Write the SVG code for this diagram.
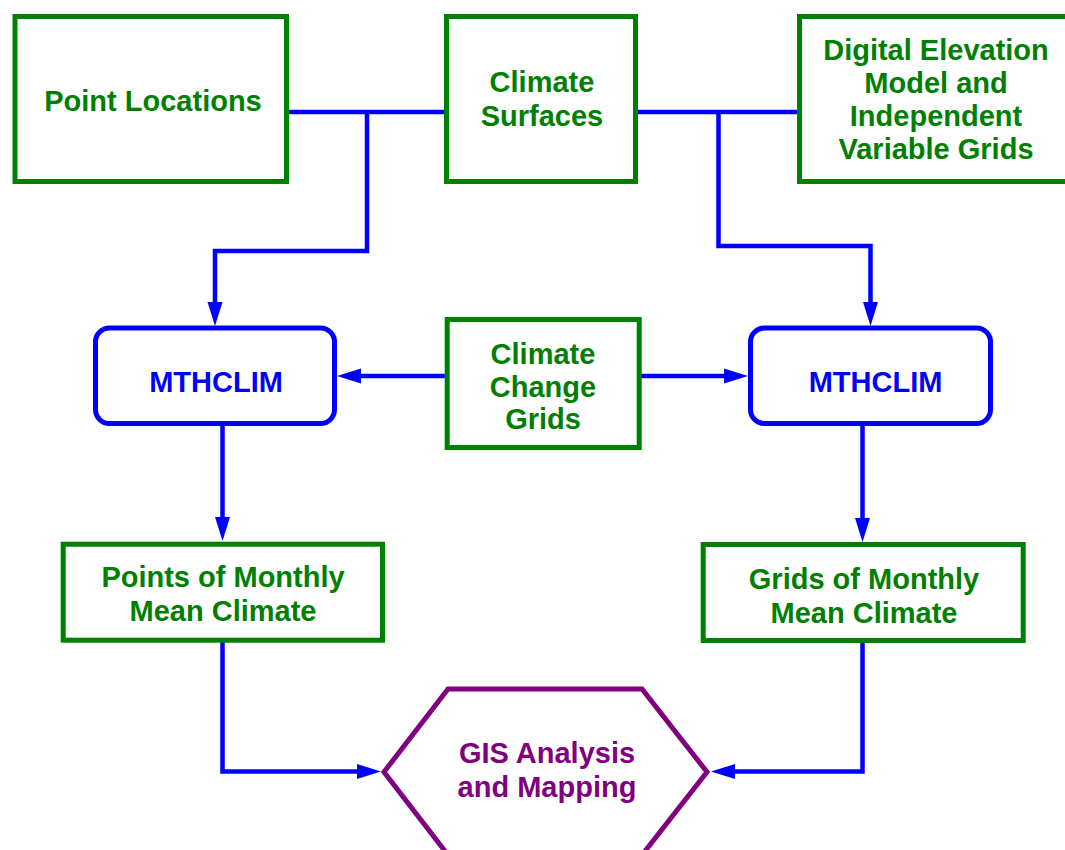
<svg xmlns="http://www.w3.org/2000/svg" width="1065" height="850" viewBox="0 0 1065 850">
  <style>
    .box { fill: #ffffff; stroke: #008000; stroke-width: 5; }
    .proc { fill: #ffffff; stroke: #0000ff; stroke-width: 5; }
    .hex { fill: #ffffff; stroke: #800080; stroke-width: 5; stroke-linejoin: miter; }
    .lbl { font-family: "Liberation Sans", Arial, sans-serif; font-weight: bold; font-size: 29px; text-anchor: middle; }
    .g { fill: #008000; }
    .b { fill: #0000ff; }
    .p { fill: #800080; }
    .wire { fill: none; stroke: #0000ff; stroke-width: 4.5; stroke-linejoin: miter; }
  </style>
  <defs>
    <marker id="arrow" viewBox="0 0 24 16" refX="14" refY="8" markerWidth="24" markerHeight="16" markerUnits="userSpaceOnUse" orient="auto">
      <path d="M0,0.5 L24,8 L0,15.5 z" fill="#0000ff"/>
    </marker>
  </defs>

  <rect width="1065" height="850" fill="#ffffff"/>

  <!-- connectors -->
  <g id="connectors">
    <path class="wire" d="M286,112 L447,112"/>
    <path class="wire" d="M636,112 L800,112"/>
    <path class="wire" d="M367,112 L367,251 L215,251 L215,316" marker-end="url(#arrow)"/>
    <path class="wire" d="M718.5,112 L718.5,246 L870.5,246 L870.5,316" marker-end="url(#arrow)"/>
    <path class="wire" d="M447,376 L347,376" marker-end="url(#arrow)"/>
    <path class="wire" d="M639,376 L738,376" marker-end="url(#arrow)"/>
    <path class="wire" d="M222.5,424 L222.5,531" marker-end="url(#arrow)"/>
    <path class="wire" d="M862.5,424 L862.5,532" marker-end="url(#arrow)"/>
    <path class="wire" d="M222.5,640 L222.5,771.5 L371,771.5" marker-end="url(#arrow)"/>
    <path class="wire" d="M862.5,640 L862.5,771.5 L721,771.5" marker-end="url(#arrow)"/>
  </g>

  <!-- inputs -->
  <g id="point-locations">
    <rect class="box" x="15" y="16.5" width="271.5" height="165"/>
    <text class="lbl g" x="153" y="111">Point Locations</text>
  </g>
  <g id="climate-surfaces">
    <rect class="box" x="446.5" y="16.5" width="189" height="165"/>
    <text class="lbl g" x="542" y="92">Climate</text>
    <text class="lbl g" x="542" y="126">Surfaces</text>
  </g>
  <g id="dem">
    <rect class="box" x="799.5" y="16.5" width="280" height="165"/>
    <text class="lbl g" x="936" y="60">Digital Elevation</text>
    <text class="lbl g" x="936" y="93">Model and</text>
    <text class="lbl g" x="936" y="126">Independent</text>
    <text class="lbl g" x="936" y="159">Variable Grids</text>
  </g>

  <!-- model runs -->
  <g id="mthclim-points">
    <rect class="proc" x="95.5" y="328" width="239" height="95.5" rx="14" ry="14"/>
    <text class="lbl b" x="216" y="392">MTHCLIM</text>
  </g>
  <g id="climate-change">
    <rect class="box" x="447.2" y="319.5" width="192" height="128"/>
    <text class="lbl g" x="543" y="364">Climate</text>
    <text class="lbl g" x="543" y="397">Change</text>
    <text class="lbl g" x="543" y="429">Grids</text>
  </g>
  <g id="mthclim-grids">
    <rect class="proc" x="750.5" y="328" width="240" height="95.5" rx="14" ry="14"/>
    <text class="lbl b" x="875.5" y="392">MTHCLIM</text>
  </g>

  <!-- outputs -->
  <g id="points-monthly">
    <rect class="box" x="63.2" y="544.2" width="319.3" height="96"/>
    <text class="lbl g" x="223" y="587">Points of Monthly</text>
    <text class="lbl g" x="223" y="620.5">Mean Climate</text>
  </g>
  <g id="grids-monthly">
    <rect class="box" x="703.2" y="544.5" width="320" height="96"/>
    <text class="lbl g" x="864" y="589">Grids of Monthly</text>
    <text class="lbl g" x="864" y="622.5">Mean Climate</text>
  </g>

  <g id="gis">
    <polygon class="hex" points="448,689 642,689 707,772 642,855 448,855 384,772"/>
    <text class="lbl p" x="547" y="763">GIS Analysis</text>
    <text class="lbl p" x="547" y="796.5">and Mapping</text>
  </g>
</svg>
